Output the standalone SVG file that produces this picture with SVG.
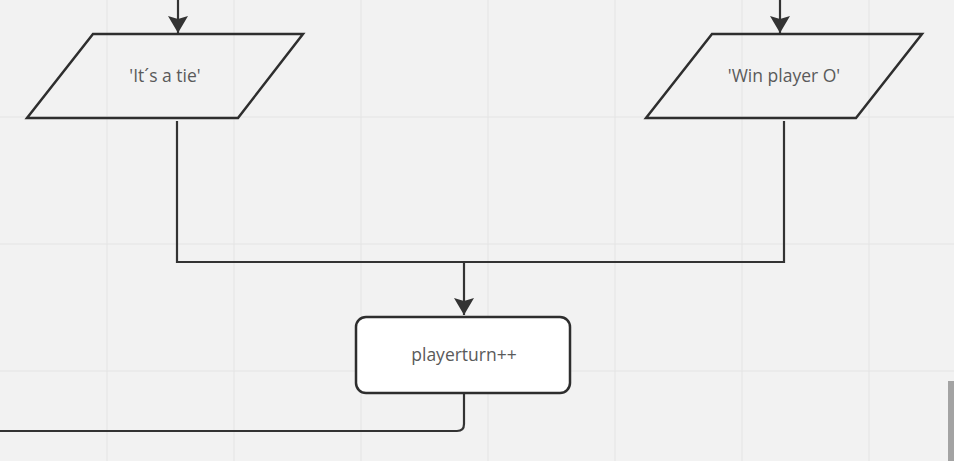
<svg xmlns="http://www.w3.org/2000/svg" width="954" height="461" viewBox="0 0 954 461">
  <defs>
    <style>
      .grid { stroke: #e4e4e4; stroke-width: 1; }
      .shape { fill: none; stroke: #2e2e2e; stroke-width: 2.5; stroke-linejoin: miter; }
      .box { fill: #ffffff; stroke: #2e2e2e; stroke-width: 2.5; }
      .conn { fill: none; stroke: #333333; stroke-width: 2.2; }
      .label { font-family: "Open Sans", "Noto Sans", "DejaVu Sans", sans-serif; font-size: 17.5px; fill: #5a5a5a; text-anchor: middle; dominant-baseline: central; }
    </style>
    <marker id="arrow" markerUnits="userSpaceOnUse" markerWidth="22" markerHeight="20" refX="20" refY="10" orient="auto">
      <path d="M20,10 L3,0 L6,10 L3,20 Z" fill="#333333"/>
    </marker>
  </defs>
  <rect x="0" y="0" width="954" height="461" fill="#f2f2f2"/>
  <g id="grid">
    <line class="grid" x1="107" y1="0" x2="107" y2="461"/>
    <line class="grid" x1="234" y1="0" x2="234" y2="461"/>
    <line class="grid" x1="361" y1="0" x2="361" y2="461"/>
    <line class="grid" x1="488" y1="0" x2="488" y2="461"/>
    <line class="grid" x1="615" y1="0" x2="615" y2="461"/>
    <line class="grid" x1="742" y1="0" x2="742" y2="461"/>
    <line class="grid" x1="869" y1="0" x2="869" y2="461"/>
    <line class="grid" x1="0" y1="117" x2="954" y2="117"/>
    <line class="grid" x1="0" y1="244" x2="954" y2="244"/>
    <line class="grid" x1="0" y1="371" x2="954" y2="371"/>
  </g>
  <g id="connectors">
    <path class="conn" d="M178,0 L178,33" marker-end="url(#arrow)"/>
    <path class="conn" d="M780,0 L780,33" marker-end="url(#arrow)"/>
    <path class="conn" d="M177,121 L177,262 L784,262 L784,121"/>
    <path class="conn" d="M464,262 L464,315" marker-end="url(#arrow)"/>
    <path class="conn" d="M464,393 L464,424 Q464,431 457,431 L0,431"/>
  </g>
  <g id="node-tie">
    <polygon class="shape" points="93,34 303,34 238,118 27,118"/>
    <text class="label" x="165" y="75">'It´s a tie'</text>
  </g>
  <g id="node-win-o">
    <polygon class="shape" points="712,34 922,34 856,118 646,118"/>
    <text class="label" x="784" y="75">'Win player O'</text>
  </g>
  <g id="node-playerturn">
    <rect class="box" x="356" y="317" width="214" height="76" rx="10" ry="10"/>
    <text class="label" x="464" y="354">playerturn++</text>
  </g>
  <rect x="948" y="381" width="6" height="80" fill="#a3a3a3"/>
</svg>
